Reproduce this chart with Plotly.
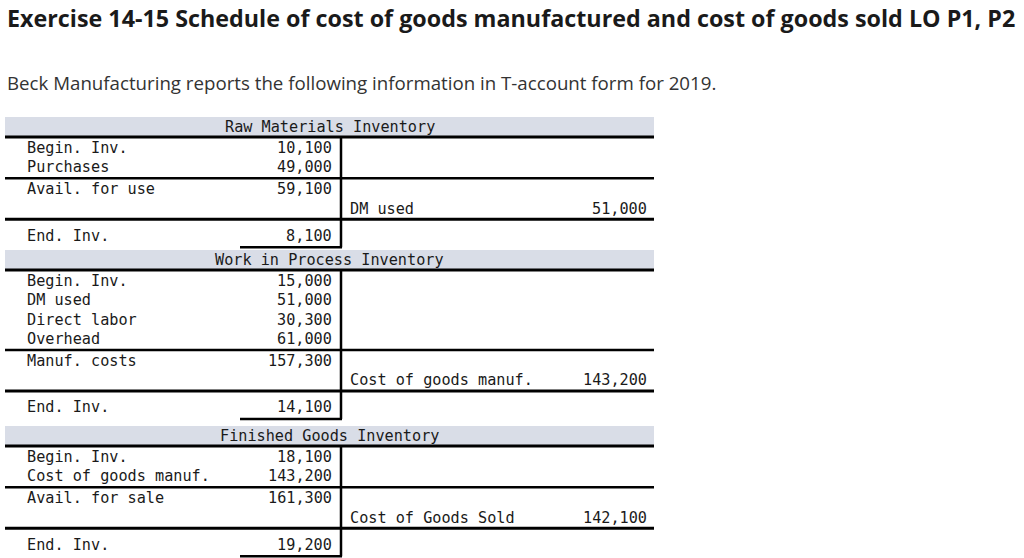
import plotly.graph_objects as go

title = "Exercise 14-15 Schedule of cost of goods manufactured and cost of goods sold LO P1, P2"
subtitle = "Beck Manufacturing reports the following information in T-account form for 2019."

# T-account data
accounts = ["Raw Materials Inventory", "Work in Process Inventory", "Finished Goods Inventory"]

rm_items = ["Begin. Inv.", "Purchases"]
rm_values = [10100, 49000]
wip_items = ["Begin. Inv.", "DM used", "Direct labor", "Overhead"]
wip_values = [15000, 51000, 30300, 61000]
fg_items = ["Begin. Inv.", "Cost of goods manuf."]
fg_values = [18100, 143200]

subtotal_labels = ["Avail. for use", "Manuf. costs", "Avail. for sale"]
subtotal_values = [59100, 157300, 161300]
credit_labels = ["DM used", "Cost of goods manuf.", "Cost of Goods Sold"]
credit_values = [51000, 143200, 142100]
end_labels = ["End. Inv.", "End. Inv.", "End. Inv."]
end_values = [8100, 14100, 19200]

debit_items = [rm_items, wip_items, fg_items]
debit_values = [rm_values, wip_values, fg_values]

# layout constants (pixels)
W, H = 1024, 558
left, mid, right = 5, 341, 654
tops = [117, 250, 426]
band_h = 19.5
row_h = 19.3
mono = "DejaVu Sans Mono, Liberation Mono, monospace"
tcol = "#1a1a1a"

fig = go.Figure()
shapes = []
annots = []


def txt(x, y, s, anchor="left", size=15.2, family=mono, color=tcol):
    annots.append(dict(x=x, y=y, text=s, showarrow=False, xanchor=anchor, yanchor="middle",
                       font=dict(family=family, size=size, color=color)))


def hline(x0, x1, y, w=2.5):
    shapes.append(dict(type="line", x0=x0, x1=x1, y0=y, y1=y, line=dict(color="black", width=w)))


for i, name in enumerate(accounts):
    t = tops[i]
    shapes.append(dict(type="rect", x0=left, x1=right, y0=t, y1=t + band_h,
                       fillcolor="#d9dde7", line=dict(width=0), layer="below"))
    txt((left + right) / 2, t + band_h / 2 + 0.5, name, anchor="center")
    line1 = t + band_h + 0.5
    hline(left, right, line1, 3)
    y = line1 + 11
    for lab, val in zip(debit_items[i], debit_values[i]):
        txt(25, y, lab)
        txt(334, y, f"{val:,}", anchor="right")
        y += row_h
    line2 = y - row_h + 11
    hline(left, right, line2)
    sub_y = line2 + 11
    txt(25, sub_y, subtotal_labels[i])
    txt(334, sub_y, f"{subtotal_values[i]:,}", anchor="right")
    cr_y = sub_y + 19.5
    txt(348, cr_y, credit_labels[i])
    txt(649, cr_y, f"{credit_values[i]:,}", anchor="right")
    line3 = cr_y + 10.5
    hline(left, right, line3, 3)
    end_y = line3 + 16.5
    txt(25, end_y, end_labels[i])
    txt(334, end_y, f"{end_values[i]:,}", anchor="right")
    short = end_y + 11.5
    hline(240, mid + 1, short)
    shapes.append(dict(type="line", x0=mid, x1=mid, y0=line1, y1=short,
                       line=dict(color="black", width=2.5)))

txt(5, 18, "<b>" + title + "</b>", size=23.3, family="Open Sans, sans-serif", color="#1a1a1a")
txt(5, 82, subtitle, size=18.7, family="Open Sans, sans-serif", color="#333333")

fig.update_layout(
    width=W, height=H,
    margin=dict(l=0, r=0, t=0, b=0),
    paper_bgcolor="white", plot_bgcolor="white",
    xaxis=dict(range=[0, W], visible=False, fixedrange=True),
    yaxis=dict(range=[H, 0], visible=False, fixedrange=True),
    shapes=shapes, annotations=annots, showlegend=False,
)
fig.write_html("out.html", config={"displayModeBar": False},
               post_script="document.body.style.margin='0px';")
